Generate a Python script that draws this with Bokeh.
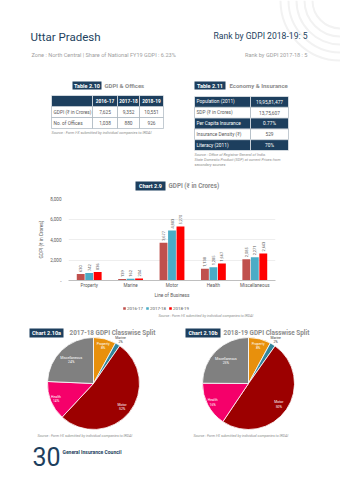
import numpy as np
from bokeh.plotting import figure
from bokeh.models import ColumnDataSource, Range1d, FactorRange, CustomJSTickFormatter
from bokeh.layouts import column
from bokeh.embed import file_html
from bokeh.resources import INLINE
from bokeh.core.properties import value
from bokeh.transform import dodge

FONT = "Roboto"
NAVY = "#1d3f5e"
GRAY = "#8c8c8c"
DARK = "#595959"

# ---------------- data ----------------
state = "Uttar Pradesh"
rank_1819 = "Rank by GDPI 2018-19: 5"
rank_1718 = "Rank by GDPI 2017-18 : 5"
zone_line = "Zone : North Central  |  Share of National FY19 GDPI : 6.23%"

categories = ["Property", "Marine", "Motor", "Health", "Miscellaneous"]
years = ["2016-17", "2017-18", "2018-19"]
gdpi_2016 = [630, 139, 3677, 1138, 2085]
gdpi_2017 = [742, 162, 4883, 1285, 2271]
gdpi_2018 = [836, 204, 5270, 1667, 2643]
bar_colors = ["#c0504d", "#4bacc6", "#ff0000"]
y_ticks = [0, 2000, 4000, 6000, 8000]

t210_header = ["", "2016-17", "2017-18", "2018-19"]
t210_rows = [["GDPI (\u20b9 in Crores)", "7,625", "9,352", "10,551"],
             ["No. of Offices", "1,038", "880", "926"]]
t211_labels = ["Population (2011)", "SDP (\u20b9 in Crores)", "Per Capita Insurance",
               "Insurance Density (\u20b9)", "Literacy (2011)"]
t211_values = ["19,95,81,477", "13,75,607", "0.77%", "529", "70%"]

pie_labels = ["Property", "Marine", "Motor", "Health", "Miscellaneous"]
pie_colors = ["#e8900c", "#31859c", "#9c0000", "#f5006a", "#808080"]
pie_label_r = [0.85, 1.12, 0.8, 0.88, 0.7]
pie_label_col = ["white", "#404040", "white", "white", "white"]

src_irdai = "Source : Form I-X submitted by individual companies to IRDAI"


def no_align(p):
    if "frame_align" in p.properties():
        p.frame_align = False
    return p


def canvas(w, h):
    p = figure(width=w, height=h, x_range=Range1d(0, w), y_range=Range1d(0, h),
               output_backend="svg", toolbar_location=None,
               x_axis_location=None, y_axis_location=None, min_border=0)
    p.grid.visible = False
    p.outline_line_color = None
    return no_align(p)


def txt(p, H, x, y, s, size, color, style="normal", align="left", baseline="middle", angle=0):
    p.text(x=[x], y=[H - y], text=[s], text_font=value(FONT), text_font_size=f"{size}px",
           text_color=color, text_font_style=style, text_align=align,
           text_baseline=baseline, angle=angle)


def tag(p, H, x0, x1, y0, y1, s, size=5.5):
    p.quad(left=[x0], right=[x1], top=[H - y0], bottom=[H - y1], fill_color=NAVY, line_color=None)
    txt(p, H, (x0 + x1) / 2, (y0 + y1) / 2, s, size, "white", "bold", "center")


# ---------------- top canvas (header + tables) ----------------
HT = 195
top = canvas(340, HT)
for r in [28, 36, 44, 52, 60]:
    top.arc(x=[340], y=[HT], radius=r, start_angle=np.pi, end_angle=np.pi * 1.5,
            line_color="#f2f2f2", line_width=2)
txt(top, HT, 30, 36, state, 11.5, NAVY)
txt(top, HT, 307, 35.5, rank_1819, 8.6, NAVY, "normal", "right")
txt(top, HT, 31, 54, zone_line, 5.6, "#a0a0a0")
txt(top, HT, 307, 54, rank_1718, 5.6, "#a0a0a0", "normal", "right")

# Table 2.10
tag(top, HT, 72, 101, 81, 89, "Table 2.10")
txt(top, HT, 104, 85, "GDPI & Offices", 6, GRAY, "bold")
cx = [51, 92, 117, 139, 163]
ry = [95, 106, 117, 128]
rows210 = [t210_header] + t210_rows
L, R, T, B, F = [], [], [], [], []
for i, row in enumerate(rows210):
    for j in range(len(row)):
        L.append(cx[j]); R.append(cx[j + 1]); T.append(HT - ry[i]); B.append(HT - ry[i + 1])
        F.append(NAVY if i == 0 else "white")
top.quad(left=L, right=R, top=T, bottom=B, fill_color=F,
         line_color=["white" if f == NAVY else "#9aa7b4" for f in F], line_width=0.6)
for i, row in enumerate(rows210):
    yc = (ry[i] + ry[i + 1]) / 2
    for j, s in enumerate(row):
        if not s:
            continue
        if j == 0:
            txt(top, HT, cx[0] + 2, yc, s, 4.8, DARK if i else "white", "normal", "left")
        else:
            txt(top, HT, (cx[j] + cx[j + 1]) / 2, yc, s, 4.8, "white" if i == 0 else DARK,
                "bold" if i == 0 else "normal", "center")
txt(top, HT, 51, 132, src_irdai, 3.8, GRAY, "italic")

# Table 2.11
tag(top, HT, 194, 225, 81, 89, "Table 2.11")
txt(top, HT, 229, 85, "Economy & Insurance", 6, GRAY, "bold")
c2 = [194, 250, 288]
rh = 10.8
for i, (lab, val) in enumerate(zip(t211_labels, t211_values)):
    y0 = 96 + i * rh
    dark = (i % 2 == 0)
    top.quad(left=[c2[0], c2[1]], right=[c2[1], c2[2]], top=[HT - y0] * 2, bottom=[HT - y0 - rh] * 2,
             fill_color=NAVY if dark else "white", line_color="white" if dark else "#9aa7b4",
             line_width=0.6)
    col = "white" if dark else DARK
    txt(top, HT, c2[0] + 2, y0 + rh / 2, lab, 4.8, col)
    txt(top, HT, (c2[1] + c2[2]) / 2, y0 + rh / 2, val, 4.8, col, "normal", "center")
for k, s in enumerate(["Source : Office of Registrar General of India.",
                       "State Domestic Product (SDP) at current Prices from",
                       "secondary sources"]):
    txt(top, HT, 194, 154 + k * 5, s, 3.8, GRAY, "italic")

# Chart 2.9 title
tag(top, HT, 135, 165, 181, 190, "Chart 2.9")
txt(top, HT, 168, 185.5, "GDPI (\u20b9 in Crores)", 6.3, GRAY, "bold")

# ---------------- bar chart ----------------
fmt = lambda v: f"{v:,}"
src = ColumnDataSource(dict(cat=categories, y16=gdpi_2016, y17=gdpi_2017, y18=gdpi_2018,
                            l16=[fmt(v) for v in gdpi_2016], l17=[fmt(v) for v in gdpi_2017],
                            l18=[fmt(v) for v in gdpi_2018]))
bar = figure(width=340, height=105, x_range=FactorRange(*categories), y_range=Range1d(0, 8000),
             output_backend="svg", toolbar_location=None,
             min_border_left=68, min_border_right=65, min_border_top=3, min_border_bottom=17)
no_align(bar)
bar.outline_line_color = None
offs = [-0.205, 0.0, 0.205]
for (yc, lc), off, c in zip([("y16", "l16"), ("y17", "l17"), ("y18", "l18")], offs, bar_colors):
    bar.vbar(x=dodge("cat", off, range=bar.x_range), top=yc, width=0.19, source=src,
             fill_color=c, line_color=None)
    bar.text(x=dodge("cat", off, range=bar.x_range), y=yc, text=lc, source=src, angle=np.pi / 2,
             text_align="left", text_baseline="middle", y_offset=-2,
             text_font=value(FONT), text_font_size="4px", text_color=DARK)
bar.xgrid.visible = False
bar.ygrid.grid_line_color = "#e3e3e3"
bar.ygrid.grid_line_width = 0.6
bar.yaxis.ticker = y_ticks
bar.yaxis.formatter = CustomJSTickFormatter(
    code="return tick == 0 ? '-' : tick.toLocaleString('en-US');")
bar.yaxis.axis_line_color = None
bar.yaxis.major_label_standoff = 7
bar.yaxis.axis_label = "GDPI (\u20b9 in Crores)"
bar.yaxis.axis_label_standoff = 3
bar.xaxis.axis_label = "Line of Business"
bar.xaxis.axis_line_color = "#bfbfbf"
bar.xaxis.major_label_standoff = 2
bar.xaxis.axis_label_standoff = 2
for ax in [bar.xaxis, bar.yaxis]:
    ax.major_tick_line_color = None
    ax.minor_tick_line_color = None
    ax.major_tick_out = 0
    ax.major_tick_in = 0
    ax.minor_tick_out = 0
    ax.minor_tick_in = 0
    ax.major_label_text_font = FONT
    ax.major_label_text_font_size = "4.6px"
    ax.major_label_text_color = DARK
    ax.axis_label_text_font = FONT
    ax.axis_label_text_font_size = "4.8px"
    ax.axis_label_text_font_style = "normal"
    ax.axis_label_text_color = DARK

# ---------------- bottom canvas (legend, pies, footer) ----------------
HB = 180
OFF = 300
bot = canvas(340, HB)


def btxt(x, y, s, size, color, style="normal", align="left", baseline="middle"):
    txt(bot, HB, x, y - OFF, s, size, color, style, align, baseline)


for i, (yr, c) in enumerate(zip(years, bar_colors)):
    lx = 124 + i * 23
    bot.rect(x=[lx], y=[HB - (308 - OFF)], width=2.6, height=2.6, fill_color=c, line_color=None)
    btxt(lx + 2.5, 308, yr, 4.4, DARK)
btxt(158, 315, src_irdai, 3.6, GRAY, "italic")


def pie(cx, cy, vals, title_tag, tag_x, title, title_x):
    tag(bot, HB, tag_x[0], tag_x[1], 328 - OFF, 337 - OFF, title_tag, 5.5)
    btxt(title_x, 332.5, title, 6.4, GRAY, "bold")
    v = np.array(vals, dtype=float)
    frac = v / v.sum()
    cum = np.concatenate([[0], np.cumsum(frac)])
    start = np.pi / 2 - cum[1:] * 2 * np.pi
    end = np.pi / 2 - cum[:-1] * 2 * np.pi
    Y = HB - (cy - OFF)
    bot.wedge(x=[cx] * len(v), y=[Y] * len(v), radius=46, radius_units="screen",
              start_angle=start, end_angle=end, fill_color=pie_colors,
              line_color="white", line_width=0.8)
    mid = (start + end) / 2
    for k in range(len(v)):
        r = 46 * pie_label_r[k]
        lx = cx + r * np.cos(mid[k])
        ly = Y + r * np.sin(mid[k])
        pct = f"{round(frac[k] * 100):.0f}%"
        for n, s in enumerate([pie_labels[k], pct]):
            bot.text(x=[lx], y=[ly + 2 - n * 4.2], text=[s], text_font=value(FONT),
                     text_font_size="3.4px", text_color=pie_label_col[k],
                     text_align="center", text_baseline="middle")


pie(93, 383, gdpi_2017, "Chart 2.10a", (29, 63), "2017-18 GDPI Classwise Split", 69)
pie(248, 383, gdpi_2018, "Chart 2.10b", (185, 220), "2018-19 GDPI Classwise Split", 223)
btxt(37, 435, src_irdai, 3.6, GRAY, "italic")
btxt(193, 435, src_irdai, 3.6, GRAY, "italic")

btxt(32, 456, "30", 25, NAVY)
btxt(62, 451, "General Insurance Council", 5, NAVY, "bold")

layout = column(top, bar, bot, spacing=0)
open("out.html", "w").write(file_html(layout, INLINE))
